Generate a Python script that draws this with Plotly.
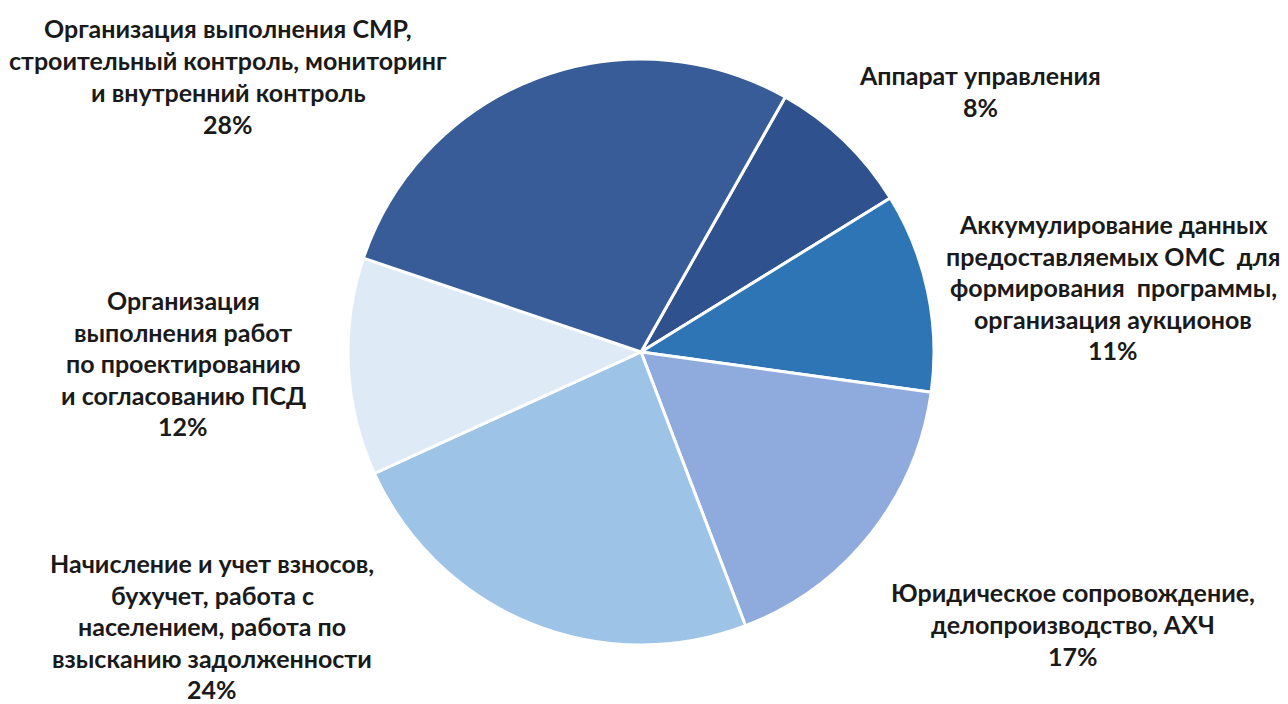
import plotly.graph_objects as go

# Data
categories = [
    "Аппарат управления",
    "Аккумулирование данных<br>предоставляемых ОМС  для<br>формирования  программы,<br>организация аукционов",
    "Юридическое сопровождение,<br>делопроизводство, АХЧ",
    "Начисление и учет взносов,<br>бухучет, работа с<br>населением, работа по<br>взысканию задолженности",
    "Организация<br>выполнения работ<br>по проектированию<br>и согласованию ПСД",
    "Организация выполнения СМР,<br>строительный контроль, мониторинг<br>и внутренний контроль",
]
values = [8, 11, 17, 24, 12, 28]
colors = ["#2F528F", "#2E75B6", "#8FAADC", "#9DC3E6", "#DEEBF7", "#375C97"]

# label block positions (pixel centre x, first-line y)
label_pos = [(980, 75), (1113, 224), (1073, 592), (212, 563), (183, 300), (228, 28)]

W, H = 1288, 704
cx, cy, r = 641, 352, 293
line_h = 32

fig = go.Figure(go.Pie(
    labels=[c.replace("<br>", " ") for c in categories],
    values=values,
    sort=False,
    direction="clockwise",
    rotation=29.5,
    marker=dict(colors=colors, line=dict(color="white", width=3)),
    textinfo="none",
    hoverinfo="label+percent",
    domain=dict(x=[(cx - r) / W, (cx + r) / W], y=[1 - (cy + r) / H, 1 - (cy - r) / H]),
    showlegend=False,
))

total = sum(values)
annotations = []
for cat, v, (lx, ly) in zip(categories, values, label_pos):
    lines = cat.split("<br>") + [f"{round(100 * v / total)}%"]
    n = len(lines)
    for i, t in enumerate(lines):
        step = line_h if n < 5 else 31.5
        annotations.append(dict(
            x=lx / W, y=1 - (ly + i * step) / H, xref="paper", yref="paper",
            text=t, showarrow=False, xanchor="center", yanchor="middle",
            font=dict(family="Lato", size=25, color="#1A1A1A", weight="bold"),
        ))

fig.update_layout(
    width=W, height=H,
    margin=dict(l=0, r=0, t=0, b=0),
    paper_bgcolor="white", plot_bgcolor="white",
    annotations=annotations,
)

fig.write_html("out.html", config={"displayModeBar": False},
               post_script="document.body.style.margin='0';")
